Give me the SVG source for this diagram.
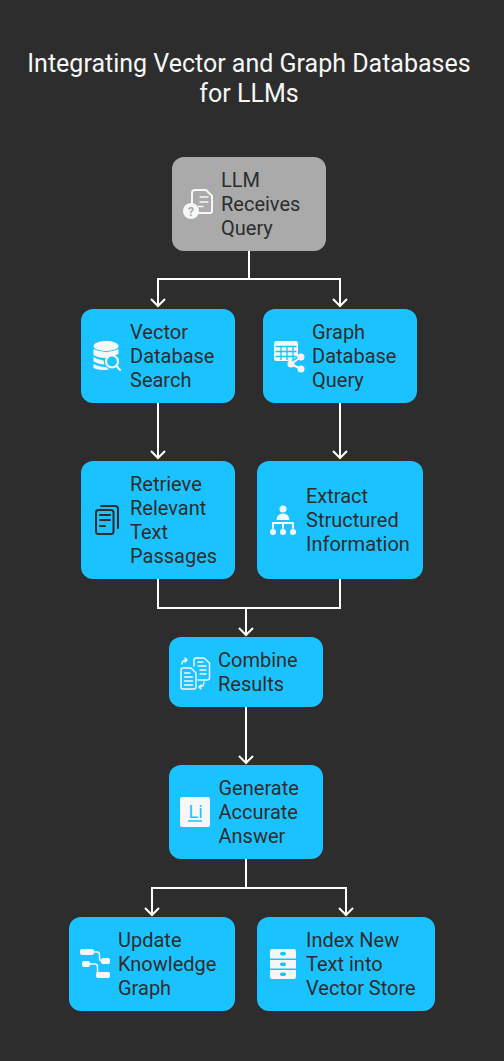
<svg xmlns="http://www.w3.org/2000/svg" width="504" height="1061" viewBox="0 0 504 1061">
<style>
text{font-family:Roboto,"Noto Sans",sans-serif}
.t{font-size:25px;fill:#f7f7f7;text-anchor:middle}
.l{font-size:20px;fill:#2d2d2d}
.b{fill:#1ac3ff}
.g{fill:#aaaaaa}
.c{fill:none;stroke:#fff;stroke-width:2}
.iw{fill:#f7f7f7}
.is{fill:none;stroke:#f7f7f7;stroke-width:2;stroke-linecap:round;stroke-linejoin:round}
.th{stroke-width:1.400}
.id{fill:none;stroke:#2d2d2d;stroke-width:2;stroke-linecap:round;stroke-linejoin:round}
</style>
<defs>
<marker id="a" markerUnits="userSpaceOnUse" markerWidth="18" markerHeight="18" refX="8" refY="8" orient="auto"><path d="M1 1L8 8L1 15" fill="none" stroke="#fff" stroke-width="2"/></marker>
</defs>
<rect width="504" height="1061" fill="#2d2d2d"/>
<g id="title"><text class="t" x="249" y="72">Integrating Vector and Graph Databases</text><text class="t" x="249" y="102">for LLMs</text></g>
<g id="connectors">
<path class="c" d="M249 251V279H158V306" marker-end="url(#a)"/>
<path class="c" d="M249 279H340V306" marker-end="url(#a)"/>
<path class="c" d="M158 403V458" marker-end="url(#a)"/>
<path class="c" d="M340 403V458" marker-end="url(#a)"/>
<path class="c" d="M158 579V608H246V635" marker-end="url(#a)"/>
<path class="c" d="M340 579V608H246"/>
<path class="c" d="M246 707V763" marker-end="url(#a)"/>
<path class="c" d="M246 859V888H152V915" marker-end="url(#a)"/>
<path class="c" d="M246 888H346V915" marker-end="url(#a)"/>
</g>
<g id="n1"><rect class="g" x="172" y="157" width="154" height="94" rx="12"/>
<path class="is" d="M192 203V193Q192 190 195 190H206L212 196V211Q212 213 210 213H199"/><path class="is th" d="M200 197H208M200 202H208M198.500 206.500H203"/><circle class="iw" cx="191" cy="211" r="8"/><text x="191" y="215.500" font-size="12" font-weight="700" fill="#aaaaaa" text-anchor="middle">?</text>
<text class="l" x="221" y="187">LLM</text><text class="l" x="221" y="211">Receives</text><text class="l" x="221" y="235">Query</text></g>
<g id="n2"><rect class="b" x="81" y="309" width="154" height="94" rx="12"/>
<ellipse class="iw" cx="106" cy="346" rx="12.500" ry="5"/><path class="iw" d="M93.500 349Q106 355 118.500 349V354Q110 357 105 358Q98 358 93.500 355ZM93.500 357Q98 360 103.500 360.500L104.500 364.500Q98 364 93.500 361.500ZM93.500 364Q99 367 106 367L109 369.500Q99 371 93.500 368Z"/><circle cx="112" cy="361.500" r="6" fill="#1ac3ff" stroke="#f7f7f7" stroke-width="2.200"/><path class="is" d="M116.500 366L120 370"/>
<text class="l" x="130" y="339">Vector</text><text class="l" x="130" y="363">Database</text><text class="l" x="130" y="387">Search</text></g>
<g id="n3"><rect class="b" x="263" y="309" width="154" height="94" rx="12"/>
<rect class="iw" x="274" y="341" width="24" height="20" rx="2.500"/><path d="M275.500 346.500H296.500M275.500 351.500H296.500M275.500 356.500H296.500M281 346.500V360M287 346.500V360M293 346.500V360" stroke="#1ac3ff" stroke-width="1.300" fill="none"/><path d="M301 357L291 364L301 369" fill="none" stroke="#1ac3ff" stroke-width="5"/><path d="M301 357L291 364L301 369" fill="none" stroke="#f7f7f7" stroke-width="2"/><circle class="iw" cx="301" cy="357" r="3.500"/><circle class="iw" cx="291" cy="364" r="3.500"/><circle class="iw" cx="301" cy="369" r="3.500"/>
<text class="l" x="312" y="339">Graph</text><text class="l" x="312" y="363">Database</text><text class="l" x="312" y="387">Query</text></g>
<g id="n4"><rect class="b" x="81" y="461" width="154" height="118" rx="12"/>
<rect class="id" x="96" y="510" width="17.500" height="24" rx="2.500"/><path class="id" d="M101 506H115Q118 506 118 509V528"/><path class="id th" d="M100 515H110M100 520H110M100 526H105"/>
<text class="l" x="130" y="491">Retrieve</text><text class="l" x="130" y="515">Relevant</text><text class="l" x="130" y="539">Text</text><text class="l" x="130" y="563">Passages</text></g>
<g id="n5"><rect class="b" x="257" y="461" width="166" height="118" rx="12"/>
<circle class="iw" cx="283" cy="509" r="3.500"/><path class="iw" d="M276.500 520Q277 513.500 283 513.500Q289 513.500 289.500 520Z"/><path class="is" d="M273 528V523H293V528M283 523V528" stroke-linecap="butt"/><circle class="iw" cx="273" cy="532" r="3"/><circle class="iw" cx="283" cy="532" r="3"/><circle class="iw" cx="293" cy="532" r="3"/>
<text class="l" x="306" y="503">Extract</text><text class="l" x="306" y="527">Structured</text><text class="l" x="306" y="551">Information</text></g>
<g id="n6"><rect class="b" x="169" y="637" width="154" height="70" rx="12"/>
<path class="is th" d="M194 666V660Q194 658 196 658H204L209.500 663V678Q209.500 680 207 680H198"/><path class="is th" d="M181 670Q181 668 183 668H191L196 673V687Q196 689 194 689H183Q181 689 181 687Z"/><path class="is th" d="M184.500 673H190M184.500 677H192.500M184.500 681H192.500M184.500 685H192.500M198 662H203M198 666H206M200 670H206M200 674H206"/><path class="is th" d="M182 664Q182 660 187 660M185 658L187 660L185 662M204 682Q204 687 199 687M201 685L199 687L201 689"/>
<text class="l" x="218" y="667">Combine</text><text class="l" x="218" y="691">Results</text></g>
<g id="n7"><rect class="b" x="169" y="765" width="154" height="94" rx="12"/>
<rect class="iw" x="180" y="797" width="30" height="30" rx="2"/><text x="188.500" y="818" font-size="18" fill="#1ac3ff">Li</text><path d="M188 821H202" stroke="#1ac3ff" stroke-width="1.500"/>
<text class="l" x="218.500" y="795">Generate</text><text class="l" x="218.500" y="819">Accurate</text><text class="l" x="218.500" y="843">Answer</text></g>
<g id="n8"><rect class="b" x="69" y="917" width="166" height="94" rx="12"/>
<path class="is th" d="M93 952H97Q99.500 952 99.500 955V958Q99.500 961 102 961H104M89 964H95Q97.500 964 97.500 967V972Q97.500 975 100 975"/><rect class="iw" x="80" y="949" width="14" height="6" rx="2"/><rect class="iw" x="82" y="961" width="8" height="6" rx="2"/><rect class="iw" x="101" y="958" width="9" height="6" rx="2"/><rect class="iw" x="96" y="972" width="14" height="6" rx="2"/>
<text class="l" x="118" y="947">Update</text><text class="l" x="118" y="971">Knowledge</text><text class="l" x="118" y="995">Graph</text></g>
<g id="n9"><rect class="b" x="257" y="917" width="178" height="94" rx="12"/>
<path class="iw" d="M270 951Q270 949 272 949H294Q296 949 296 951V958.500H270ZM270 960H296V968.500H270ZM270 970H296V977Q296 979 294 979H272Q270 979 270 977Z"/><rect class="b" x="280" y="952" width="6" height="3.500" rx="1.700"/><rect class="b" x="280" y="962.500" width="6" height="3.500" rx="1.700"/><rect class="b" x="280" y="972.500" width="6" height="3.500" rx="1.700"/>
<text class="l" x="306" y="947">Index New</text><text class="l" x="306" y="971">Text into</text><text class="l" x="306" y="995">Vector Store</text></g>
</svg>
